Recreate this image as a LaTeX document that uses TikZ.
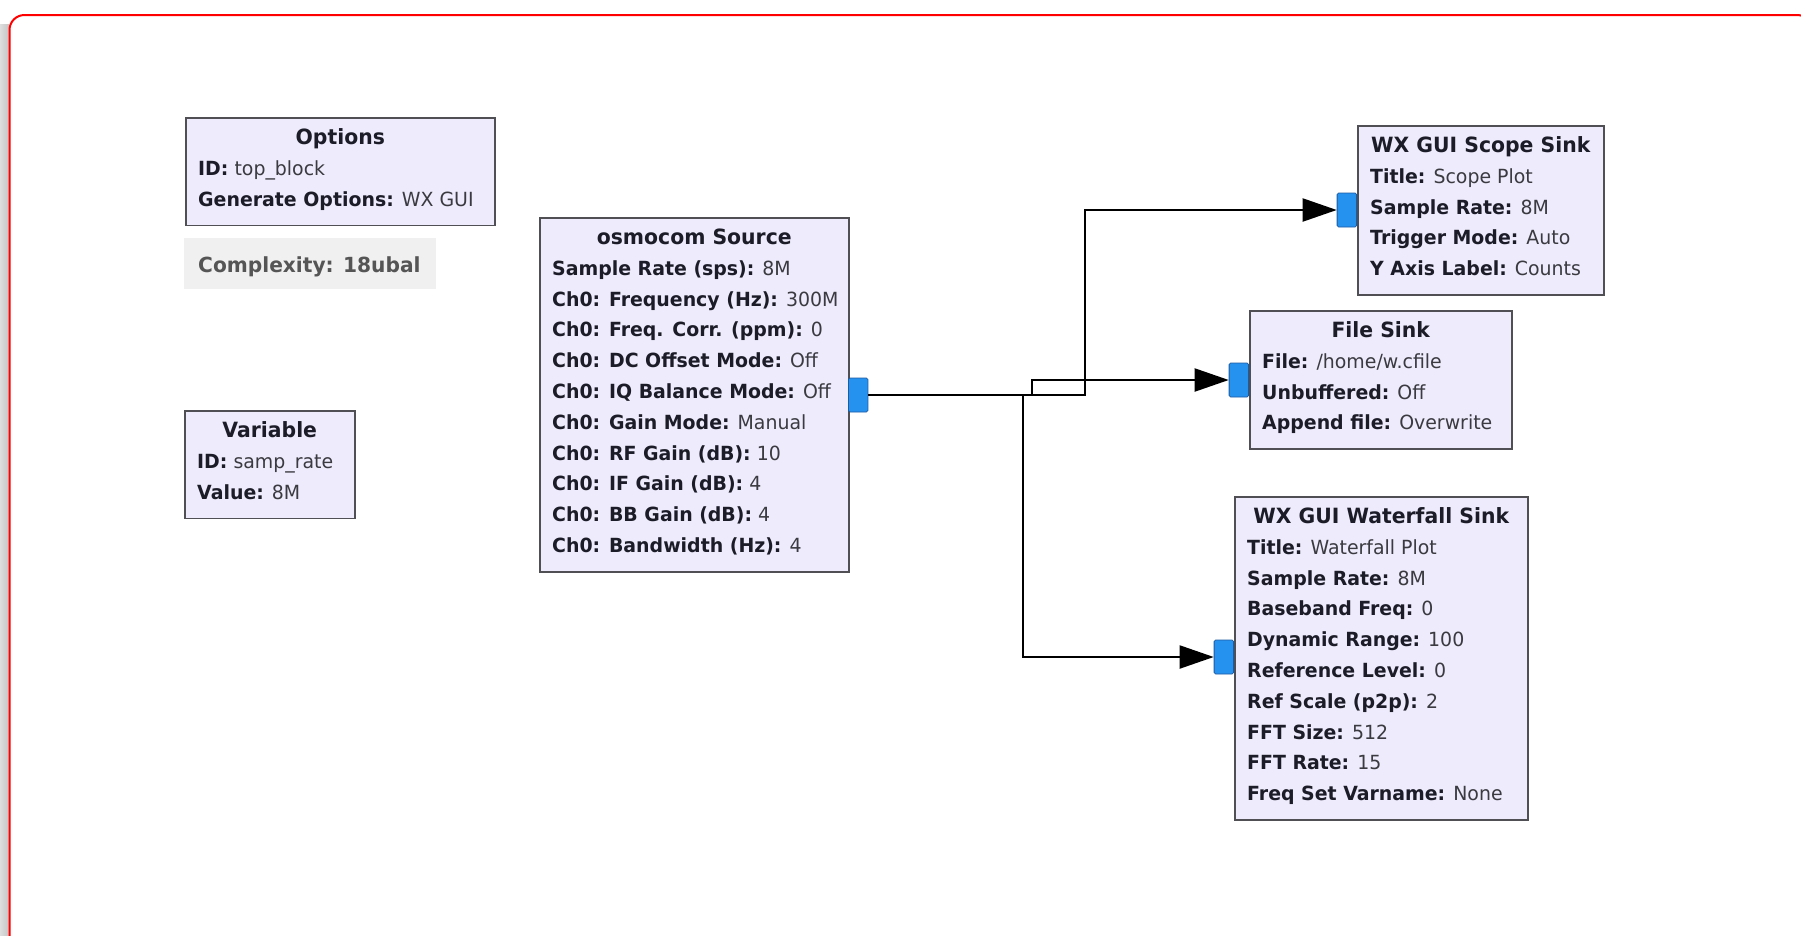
\documentclass[tikz,border=0pt]{standalone}
\usepackage{fontspec}
\setmainfont{DejaVu Sans}[FakeStretch=0.97]
\usetikzlibrary{arrows.meta}
\definecolor{blockfill}{RGB}{238,235,252}
\definecolor{blockline}{RGB}{80,80,84}
\definecolor{portfill}{RGB}{38,146,240}
\definecolor{portline}{RGB}{30,90,160}
\definecolor{labelcol}{RGB}{28,28,40}
\definecolor{valcol}{RGB}{58,58,64}
\definecolor{cplxfill}{RGB}{240,240,240}
\definecolor{cplxtext}{RGB}{85,85,85}
\definecolor{shadowdark}{RGB}{196,196,196}
\definecolor{shadowlight}{RGB}{222,222,222}
\tikzset{
  blockbox/.style={draw=blockline, fill=blockfill, line width=1.5pt, inner sep=0pt},
  titletext/.style={anchor=base, inner sep=0pt, text=labelcol, font=\fontsize{21pt}{30.8pt}\selectfont\bfseries},
  proptext/.style={anchor=base west, inner sep=0pt, text=valcol, font=\fontsize{19.5pt}{30.8pt}\selectfont},
  portbox/.style={draw=portline, fill=portfill, line width=0.8pt, rounded corners=1.5pt, minimum width=19.5pt, minimum height=34pt, inner sep=0pt},
  conn/.style={draw=black, line width=2pt, -{Triangle[length=34pt,width=23pt]}},
}
\newcommand\grcblk[6]{%
  \node[blockbox, minimum width=#4pt, minimum height={(46+#5*30.8)*1pt}, anchor=north west] (#1) at (#2,#3) {};
  \node[titletext] (#1-title) at ([yshift=-27.5pt]#1.north) {#6};
}
\newcommand\grcprop[4]{%
  \node[proptext] (#1-p#2) at ([xshift=13pt,yshift={-(27.5+#2*30.8)*1pt}]#1.north west) {\textbf{\color{labelcol}#3} #4};
}
\begin{document}
\begin{tikzpicture}[x=1pt,y=-1pt]
\useasboundingbox (0,0) rectangle (1801,935);
% window frame
\fill[white] (0,0) rectangle (1801,935);
\shade[left color=shadowlight, right color=shadowdark] (0,24) rectangle (9,935);
\draw[red, line width=2pt, rounded corners=15pt] (9.5,960) -- (9.5,15) -- (1812,15) -- (1812,960);

% Options
\grcblk{opt}{185}{117}{309}{2}{Options}
\grcprop{opt}{1}{ID:}{top\_block}
\grcprop{opt}{2}{Generate Options:}{WX GUI}

% Complexity
\node[fill=cplxfill, minimum width=252pt, minimum height=51pt, anchor=north west, inner sep=0pt] (cplx) at (184,238) {};
\node[anchor=base west, inner sep=0pt, text=cplxtext, font=\fontsize{20.8pt}{30.8pt}\selectfont\bfseries] (cplx-t) at (198,272) {Complexity: 18ubal};

% Variable
\grcblk{var}{184}{410}{170}{2}{Variable}
\grcprop{var}{1}{ID:}{samp\_rate}
\grcprop{var}{2}{Value:}{8M}

% osmocom Source
\grcblk{src}{539}{217}{309}{10}{osmocom Source}
\grcprop{src}{1}{Sample Rate (sps):}{8M}
\grcprop{src}{2}{Ch0: Frequency (Hz):}{300M}
\grcprop{src}{3}{Ch0: Freq. Corr. (ppm):}{0}
\grcprop{src}{4}{Ch0: DC Offset Mode:}{Off}
\grcprop{src}{5}{Ch0: IQ Balance Mode:}{Off}
\grcprop{src}{6}{Ch0: Gain Mode:}{Manual}
\grcprop{src}{7}{Ch0: RF Gain (dB):}{10}
\grcprop{src}{8}{Ch0: IF Gain (dB):}{4}
\grcprop{src}{9}{Ch0: BB Gain (dB):}{4}
\grcprop{src}{10}{Ch0: Bandwidth (Hz):}{4}

% WX GUI Scope Sink
\grcblk{scope}{1357}{125}{246}{4}{WX GUI Scope Sink}
\grcprop{scope}{1}{Title:}{Scope Plot}
\grcprop{scope}{2}{Sample Rate:}{8M}
\grcprop{scope}{3}{Trigger Mode:}{Auto}
\grcprop{scope}{4}{Y Axis Label:}{Counts}

% File Sink
\grcblk{file}{1249}{310}{262}{3}{File Sink}
\grcprop{file}{1}{File:}{/home/w.cfile}
\grcprop{file}{2}{Unbuffered:}{Off}
\grcprop{file}{3}{Append file:}{Overwrite}

% WX GUI Waterfall Sink
\grcblk{wf}{1234}{496}{293}{9}{WX GUI Waterfall Sink}
\grcprop{wf}{1}{Title:}{Waterfall Plot}
\grcprop{wf}{2}{Sample Rate:}{8M}
\grcprop{wf}{3}{Baseband Freq:}{0}
\grcprop{wf}{4}{Dynamic Range:}{100}
\grcprop{wf}{5}{Reference Level:}{0}
\grcprop{wf}{6}{Ref Scale (p2p):}{2}
\grcprop{wf}{7}{FFT Size:}{512}
\grcprop{wf}{8}{FFT Rate:}{15}
\grcprop{wf}{9}{Freq Set Varname:}{None}

% ports
\node[portbox, anchor=east] (scopeport) at (1357,210) {};
\node[portbox, anchor=east] (fileport) at (1249,380) {};
\node[portbox, anchor=east] (wfport) at (1234,657) {};
\node[portbox, anchor=west] (srcport) at (848,395) {};

% connections
\draw[conn] (srcport.east) -| (1085,0 |- scopeport.west) -- (scopeport.west);
\draw[conn] (srcport.east) -| (1032,0 |- fileport.west) -- (fileport.west);
\draw[conn] (srcport.east) -| (1023,0 |- wfport.west) -- (wfport.west);
\end{tikzpicture}
\end{document}
